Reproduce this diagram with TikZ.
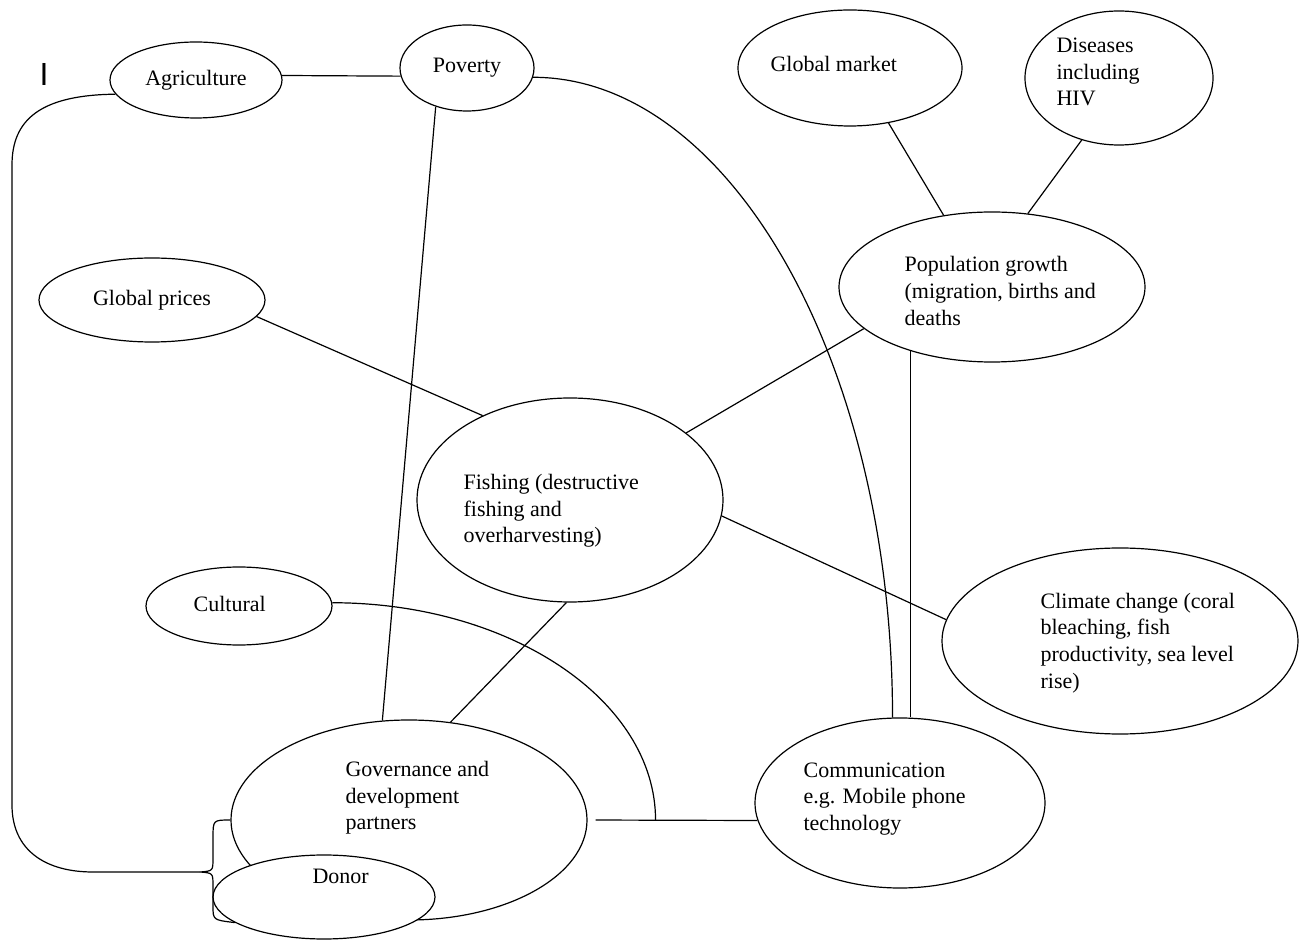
\documentclass[tikz,border=0pt]{standalone}
\usepackage{fontspec}
\setmainfont{Liberation Serif}
\newfontfamily\markfont{Liberation Sans}
\usetikzlibrary{shapes.geometric}
\begin{document}
\begin{tikzpicture}
        [
        x=0.5pt, y=-0.5pt,
        line width=0.6pt,
        blob/.style={ellipse, draw, inner sep=0pt, font=\fontsize{11}{13.3}\selectfont},
        txt/.style={anchor=west, align=left, inner sep=0pt, font=\fontsize{11}{13.3}\selectfont}
        ]

        \useasboundingbox (0,0) rectangle (1302,940);

        % factors
        \node[blob, minimum width=86pt, minimum height=38pt] (agri) at (196,80) {Agriculture};
        \node[blob, minimum width=67pt, minimum height=43pt] (pov) at (467,68) {Poverty};
        \node[blob, minimum width=112pt, minimum height=58pt] (gmkt) at (850,68) {};
        \node[blob, minimum width=94pt, minimum height=67pt] (dis) at (1119,78) {};
        \node[blob, minimum width=153pt, minimum height=75pt] (pop) at (992,287) {};
        \node[blob, minimum width=113pt, minimum height=42pt] (gprice) at (152,300) {Global prices};
        \node[blob, minimum width=153pt, minimum height=102pt] (fish) at (570,500) {};
        \node[blob, minimum width=93pt, minimum height=39pt] (cult) at (239,606) {};
        \node[blob, minimum width=178pt, minimum height=93pt] (clim) at (1120,641) {};
        \node[blob, minimum width=178pt, minimum height=100pt] (gov) at (409,820) {};
        \node[blob, minimum width=145pt, minimum height=85pt] (comm) at (900,803) {};
        \node[blob, fill=white, minimum width=111pt, minimum height=42pt] (donor) at (324,897) {};

        % texts
        \node[txt] (gmkt-t) at (770,64) {Global market};
        \node[txt] (dis-t) at (1056,72) {Diseases\\including\\HIV};
        \node[txt] (pop-t) at (904,291) {Population growth\\(migration, births and\\deaths};
        \node[txt] (fish-t) at (463,511) {Fishing (destructive\\fishing and\\overharvesting)};
        \node[txt] (cult-t) at (193,604) {Cultural};
        \node[txt] (clim-t) at (1040,643) {Climate change (coral\\bleaching, fish\\productivity, sea level\\rise)};
        \node[txt] (gov-t) at (345,798) {Governance and\\development\\partners};
        \node[txt] (comm-t) at (803,799) {Communication\\e.g. Mobile phone\\technology};
        \node[txt] (donor-t) at (312,876) {Donor};
        \node[font=\markfont\fontsize{16}{16}\selectfont, inner sep=0pt] (mark) at (44,74) {I};

        % links
        \draw (agri.3) -- (pov.187);
        \draw (pov.231) -- (gov.105);
        \draw (pov.352) .. controls +(197,0) and +(0,-354) .. (comm.95);
        \draw (gmkt.305) -- (pop.124);
        \draw (dis.239) -- (pop.64);
        \draw (pop.218) -- (pop.218 |- comm.north);
        \draw (pop.198) -- (fish.30);
        \draw (gprice.351) -- (fish.136);
        \draw (fish.354) -- (clim.173);
        \draw (fish.268) -- (gov.67);
        \draw[shorten <=4pt] (gov.east) -- coordinate[pos=0.4] (jn) (comm.187);
        \draw (cult.2) .. controls +(178,0) and +(0,-120) .. (jn);

        % donor bracket
        \coordinate (tip) at (200,872);
        \draw (agri.190) .. controls (40,95) and (12,120) .. (12,165) -- (12,805)
              .. controls (12,850) and (45,872) .. (93,872) -- (tip);
        \draw (gov.west) .. controls (213,820) .. (213,838) -- (213,858)
              .. controls (213,871) .. (tip) .. controls (213,873) .. (213,886)
              -- (213,906) .. controls (213,920) .. (donor.196);

    \end{tikzpicture}
\end{document}
